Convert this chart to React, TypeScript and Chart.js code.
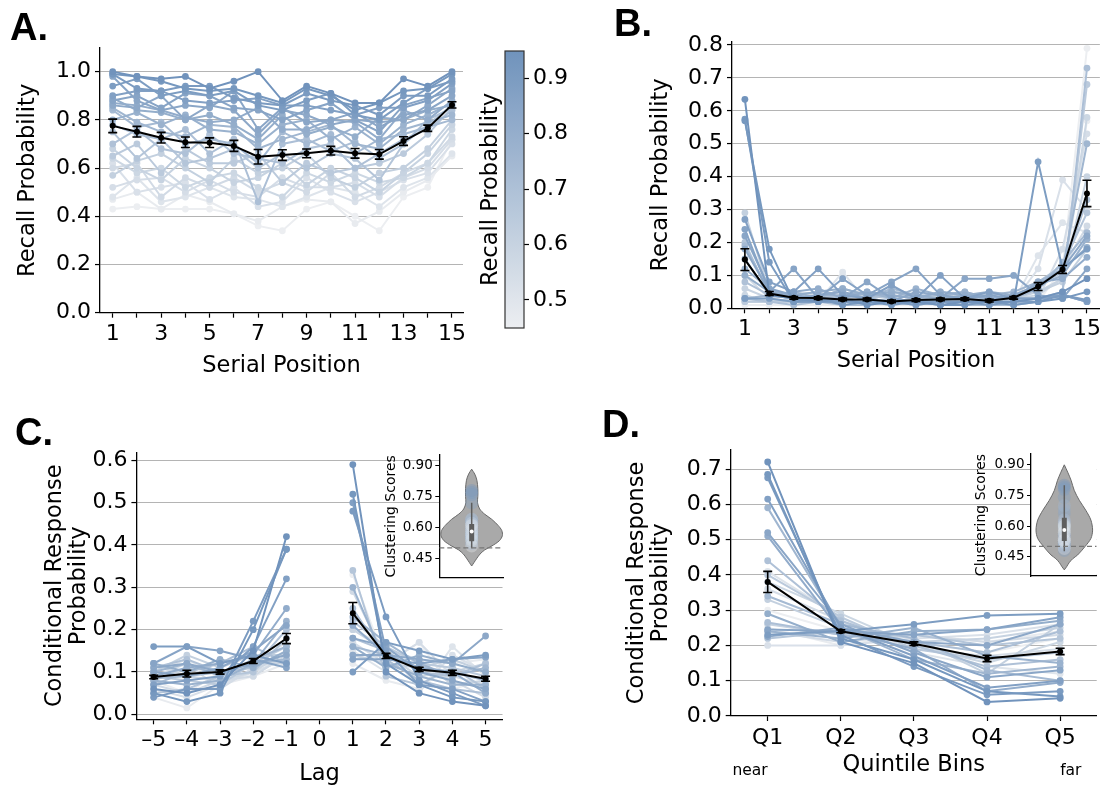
import React, { useEffect, useRef } from "react";
import { Chart, registerables } from "chart.js";

Chart.register(...registerables);

const FONT = "'DejaVu Sans', 'Noto Sans', sans-serif";
const LABEL_FONT = "bold 38px 'Liberation Sans', Arial, sans-serif";
const W = 1104;
const H = 785;
Chart.defaults.font.family = FONT;
Chart.defaults.color = "#000";

// ---------------- data ----------------
const serialPositions = [1, 2, 3, 4, 5, 6, 7, 8, 9, 10, 11, 12, 13, 14, 15];
const serialTickLabels = ["1", "", "3", "", "5", "", "7", "", "9", "", "11", "", "13", "", "15"];

const spcYTicks = [0, 0.2, 0.4, 0.6, 0.8, 1.0];
const spcMean = [0.775, 0.751, 0.726, 0.707, 0.705, 0.692, 0.647, 0.654, 0.661, 0.672, 0.661, 0.657, 0.712, 0.765, 0.862];
const spcSem = [0.028, 0.022, 0.022, 0.022, 0.02, 0.023, 0.03, 0.022, 0.018, 0.018, 0.02, 0.02, 0.018, 0.013, 0.013];
const spcSubjects = [
  [1.0, 0.98, 0.97, 0.98, 0.93, 0.96, 1.0, 0.88, 0.94, 0.91, 0.87, 0.87, 0.97, 0.94, 1.0],
  [0.99, 0.98, 0.96, 0.93, 0.92, 0.93, 0.9, 0.87, 0.93, 0.9, 0.84, 0.87, 0.92, 0.93, 0.99],
  [0.99, 0.93, 0.92, 0.94, 0.94, 0.89, 0.87, 0.86, 0.91, 0.88, 0.86, 0.82, 0.9, 0.9, 0.97],
  [0.94, 0.97, 0.9, 0.92, 0.9, 0.92, 0.86, 0.84, 0.88, 0.91, 0.82, 0.8, 0.87, 0.93, 0.96],
  [0.9, 0.92, 0.92, 0.88, 0.87, 0.88, 0.89, 0.86, 0.86, 0.84, 0.82, 0.85, 0.85, 0.88, 0.95],
  [0.88, 0.9, 0.85, 0.91, 0.9, 0.85, 0.84, 0.8, 0.84, 0.87, 0.8, 0.75, 0.86, 0.89, 0.92],
  [0.98, 0.88, 0.84, 0.86, 0.85, 0.92, 0.76, 0.85, 0.79, 0.8, 0.83, 0.77, 0.82, 0.84, 0.9],
  [0.86, 0.85, 0.9, 0.8, 0.86, 0.84, 0.74, 0.84, 0.82, 0.78, 0.8, 0.79, 0.8, 0.86, 0.93],
  [0.87, 0.86, 0.84, 0.81, 0.79, 0.8, 0.85, 0.76, 0.76, 0.8, 0.79, 0.72, 0.84, 0.8, 0.88],
  [0.89, 0.84, 0.83, 0.8, 0.82, 0.78, 0.72, 0.82, 0.74, 0.77, 0.73, 0.81, 0.8, 0.84, 0.86],
  [0.8, 0.83, 0.78, 0.82, 0.76, 0.75, 0.7, 0.78, 0.8, 0.72, 0.77, 0.7, 0.78, 0.82, 0.87],
  [0.85, 0.79, 0.75, 0.73, 0.78, 0.77, 0.68, 0.72, 0.75, 0.78, 0.7, 0.68, 0.76, 0.79, 0.82],
  [0.84, 0.77, 0.79, 0.7, 0.72, 0.7, 0.62, 0.75, 0.7, 0.74, 0.66, 0.72, 0.74, 0.77, 0.8],
  [0.78, 0.74, 0.72, 0.76, 0.66, 0.72, 0.46, 0.7, 0.72, 0.67, 0.71, 0.64, 0.7, 0.8, 0.85],
  [0.7, 0.76, 0.68, 0.66, 0.74, 0.66, 0.64, 0.62, 0.68, 0.7, 0.6, 0.66, 0.72, 0.76, 0.84],
  [0.75, 0.64, 0.72, 0.62, 0.64, 0.68, 0.6, 0.66, 0.6, 0.66, 0.64, 0.55, 0.7, 0.78, 0.86],
  [0.65, 0.7, 0.58, 0.68, 0.62, 0.62, 0.66, 0.54, 0.62, 0.58, 0.6, 0.62, 0.66, 0.74, 0.85],
  [0.57, 0.63, 0.66, 0.6, 0.54, 0.64, 0.58, 0.6, 0.66, 0.56, 0.52, 0.58, 0.6, 0.68, 0.8],
  [0.68, 0.6, 0.55, 0.64, 0.6, 0.54, 0.56, 0.62, 0.53, 0.6, 0.56, 0.5, 0.58, 0.66, 0.78],
  [0.64, 0.58, 0.6, 0.52, 0.56, 0.58, 0.52, 0.48, 0.58, 0.54, 0.58, 0.54, 0.56, 0.62, 0.76],
  [0.6, 0.62, 0.48, 0.56, 0.52, 0.56, 0.5, 0.54, 0.5, 0.58, 0.48, 0.52, 0.58, 0.62, 0.73],
  [0.52, 0.55, 0.56, 0.5, 0.55, 0.5, 0.48, 0.56, 0.52, 0.52, 0.54, 0.48, 0.56, 0.6, 0.72],
  [0.62, 0.5, 0.52, 0.54, 0.47, 0.52, 0.44, 0.46, 0.56, 0.5, 0.46, 0.5, 0.55, 0.58, 0.7],
  [0.48, 0.56, 0.46, 0.48, 0.52, 0.48, 0.47, 0.44, 0.48, 0.52, 0.5, 0.44, 0.52, 0.56, 0.66],
  [0.47, 0.5, 0.43, 0.49, 0.46, 0.41, 0.38, 0.44, 0.47, 0.46, 0.37, 0.42, 0.5, 0.55, 0.65],
  [0.43, 0.44, 0.43, 0.43, 0.43, 0.41, 0.36, 0.34, 0.43, 0.46, 0.4, 0.34, 0.48, 0.52, 0.72],
];

const pfrYTicks = [0, 0.1, 0.2, 0.3, 0.4, 0.5, 0.6, 0.7, 0.8];
const pfrMean = [0.148, 0.045, 0.032, 0.031, 0.027, 0.027, 0.021, 0.025, 0.027, 0.028, 0.023, 0.032, 0.066, 0.118, 0.349];
const pfrSem = [0.033, 0.006, 0.004, 0.004, 0.004, 0.004, 0.004, 0.004, 0.004, 0.004, 0.004, 0.004, 0.012, 0.012, 0.04];
const pfrSubjects = [
  [0.635, 0.04, 0.03, 0.02, 0.03, 0.01, 0.02, 0.02, 0.01, 0.02, 0.02, 0.02, 0.03, 0.05, 0.09],
  [0.57, 0.18, 0.02, 0.03, 0.01, 0.02, 0.01, 0.02, 0.01, 0.01, 0.02, 0.01, 0.02, 0.03, 0.05],
  [0.575, 0.14, 0.02, 0.02, 0.02, 0.02, 0.02, 0.01, 0.02, 0.02, 0.01, 0.02, 0.02, 0.04, 0.025],
  [0.03, 0.03, 0.02, 0.02, 0.02, 0.02, 0.02, 0.02, 0.02, 0.02, 0.02, 0.02, 0.445, 0.12, 0.18],
  [0.27, 0.08, 0.05, 0.12, 0.04, 0.03, 0.07, 0.03, 0.1, 0.03, 0.05, 0.03, 0.03, 0.04, 0.02],
  [0.24, 0.05, 0.12, 0.03, 0.09, 0.04, 0.08, 0.12, 0.04, 0.03, 0.04, 0.03, 0.03, 0.04, 0.02],
  [0.22, 0.06, 0.04, 0.03, 0.03, 0.08, 0.03, 0.02, 0.03, 0.09, 0.09, 0.1, 0.04, 0.03, 0.12],
  [0.18, 0.05, 0.03, 0.04, 0.05, 0.03, 0.02, 0.05, 0.04, 0.03, 0.02, 0.04, 0.07, 0.12, 0.22],
  [0.15, 0.04, 0.05, 0.06, 0.03, 0.05, 0.04, 0.03, 0.05, 0.04, 0.03, 0.03, 0.08, 0.09, 0.155],
  [0.1, 0.05, 0.04, 0.05, 0.06, 0.04, 0.05, 0.04, 0.03, 0.04, 0.05, 0.04, 0.06, 0.12, 0.185],
  [0.12, 0.06, 0.03, 0.04, 0.04, 0.05, 0.03, 0.06, 0.04, 0.05, 0.03, 0.04, 0.07, 0.1, 0.21],
  [0.03, 0.04, 0.05, 0.03, 0.06, 0.04, 0.04, 0.03, 0.05, 0.04, 0.04, 0.05, 0.08, 0.12, 0.5],
  [0.19, 0.05, 0.04, 0.03, 0.02, 0.03, 0.06, 0.04, 0.02, 0.04, 0.03, 0.03, 0.06, 0.14, 0.23],
  [0.03, 0.02, 0.01, 0.02, 0.01, 0.01, 0.02, 0.01, 0.02, 0.01, 0.01, 0.01, 0.02, 0.05, 0.73],
  [0.08, 0.04, 0.03, 0.04, 0.05, 0.03, 0.05, 0.04, 0.04, 0.05, 0.03, 0.03, 0.07, 0.11, 0.33],
  [0.2, 0.04, 0.03, 0.03, 0.04, 0.03, 0.04, 0.03, 0.03, 0.03, 0.03, 0.03, 0.08, 0.13, 0.29],
  [0.02, 0.02, 0.02, 0.03, 0.02, 0.02, 0.03, 0.02, 0.02, 0.03, 0.02, 0.02, 0.03, 0.05, 0.68],
  [0.29, 0.05, 0.04, 0.05, 0.03, 0.04, 0.03, 0.04, 0.03, 0.03, 0.04, 0.03, 0.05, 0.08, 0.18],
  [0.06, 0.03, 0.04, 0.03, 0.04, 0.03, 0.04, 0.03, 0.04, 0.03, 0.03, 0.04, 0.05, 0.09, 0.4],
  [0.04, 0.02, 0.03, 0.02, 0.02, 0.03, 0.02, 0.02, 0.03, 0.02, 0.02, 0.03, 0.04, 0.09, 0.58],
  [0.1, 0.03, 0.05, 0.04, 0.03, 0.04, 0.05, 0.03, 0.04, 0.04, 0.03, 0.04, 0.06, 0.12, 0.25],
  [0.02, 0.02, 0.03, 0.02, 0.03, 0.02, 0.02, 0.03, 0.02, 0.02, 0.02, 0.03, 0.03, 0.18, 0.53],
  [0.03, 0.03, 0.02, 0.03, 0.02, 0.02, 0.02, 0.02, 0.02, 0.02, 0.02, 0.02, 0.12, 0.39, 0.3],
  [0.02, 0.02, 0.02, 0.02, 0.11, 0.02, 0.02, 0.02, 0.02, 0.02, 0.02, 0.02, 0.16, 0.26, 0.23],
  [0.03, 0.02, 0.02, 0.02, 0.02, 0.02, 0.02, 0.02, 0.02, 0.02, 0.02, 0.02, 0.03, 0.05, 0.57],
  [0.01, 0.01, 0.01, 0.01, 0.01, 0.01, 0.01, 0.01, 0.01, 0.01, 0.01, 0.01, 0.02, 0.12, 0.79],
];

const lags = [-5, -4, -3, -2, -1, 1, 2, 3, 4, 5];
const lagTicks = [-5, -4, -3, -2, -1, 0, 1, 2, 3, 4, 5];
const lagTickLabels = ["\u20135", "\u20134", "\u20133", "\u20132", "\u20131", "0", "1", "2", "3", "4", "5"];
const crpYTicks = [0, 0.1, 0.2, 0.3, 0.4, 0.5, 0.6];
const crpMean = [0.088, 0.096, 0.1, 0.126, 0.179, 0.239, 0.138, 0.106, 0.098, 0.084];
const crpSem = [0.004, 0.008, 0.005, 0.006, 0.012, 0.025, 0.006, 0.005, 0.006, 0.006];
const crpSubjects = [
  [0.06, 0.05, 0.07, 0.15, 0.42, 0.59, 0.1, 0.05, 0.03, 0.02],
  [0.05, 0.03, 0.05, 0.2, 0.39, 0.52, 0.12, 0.07, 0.04, 0.03],
  [0.04, 0.06, 0.06, 0.22, 0.39, 0.48, 0.23, 0.08, 0.05, 0.02],
  [0.16, 0.16, 0.12, 0.14, 0.12, 0.1, 0.17, 0.15, 0.13, 0.14],
  [0.07, 0.08, 0.09, 0.16, 0.32, 0.5, 0.15, 0.07, 0.06, 0.03],
  [0.12, 0.16, 0.15, 0.13, 0.11, 0.13, 0.13, 0.12, 0.13, 0.135],
  [0.1, 0.09, 0.11, 0.15, 0.21, 0.18, 0.16, 0.1, 0.08, 0.06],
  [0.11, 0.12, 0.1, 0.12, 0.14, 0.14, 0.14, 0.13, 0.12, 0.185],
  [0.09, 0.11, 0.12, 0.14, 0.25, 0.21, 0.14, 0.11, 0.1, 0.05],
  [0.12, 0.1, 0.13, 0.11, 0.15, 0.16, 0.11, 0.14, 0.12, 0.1],
  [0.08, 0.07, 0.08, 0.12, 0.22, 0.3, 0.12, 0.09, 0.07, 0.07],
  [0.1, 0.12, 0.09, 0.13, 0.16, 0.23, 0.17, 0.12, 0.09, 0.11],
  [0.085, 0.09, 0.1, 0.12, 0.13, 0.16, 0.14, 0.11, 0.1, 0.08],
  [0.07, 0.1, 0.12, 0.16, 0.12, 0.25, 0.13, 0.08, 0.06, 0.05],
  [0.11, 0.13, 0.1, 0.11, 0.2, 0.18, 0.15, 0.1, 0.09, 0.12],
  [0.05, 0.06, 0.09, 0.1, 0.18, 0.34, 0.09, 0.07, 0.11, 0.06],
  [0.09, 0.08, 0.07, 0.12, 0.16, 0.22, 0.16, 0.12, 0.11, 0.09],
  [0.1, 0.14, 0.11, 0.14, 0.14, 0.14, 0.12, 0.11, 0.13, 0.1],
  [0.08, 0.11, 0.1, 0.12, 0.12, 0.2, 0.15, 0.13, 0.07, 0.08],
  [0.12, 0.09, 0.08, 0.1, 0.15, 0.13, 0.14, 0.09, 0.1, 0.12],
  [0.07, 0.05, 0.08, 0.09, 0.14, 0.29, 0.13, 0.12, 0.08, 0.04],
  [0.09, 0.12, 0.06, 0.11, 0.13, 0.17, 0.12, 0.17, 0.09, 0.07],
  [0.06, 0.04, 0.07, 0.1, 0.13, 0.2, 0.16, 0.06, 0.14, 0.1],
  [0.1, 0.13, 0.09, 0.12, 0.17, 0.15, 0.1, 0.05, 0.16, 0.09],
  [0.04, 0.015, 0.07, 0.09, 0.12, 0.12, 0.08, 0.06, 0.12, 0.13],
  [0.08, 0.05, 0.1, 0.09, 0.15, 0.33, 0.12, 0.17, 0.06, 0.08],
];

const quintileBins = ["Q1", "Q2", "Q3", "Q4", "Q5"];
const quintilePositions = [0, 1, 2, 3, 4];
const quintYTicks = [0, 0.1, 0.2, 0.3, 0.4, 0.5, 0.6, 0.7];
const quintMean = [0.38, 0.24, 0.205, 0.163, 0.183];
const quintSem = [0.03, 0.004, 0.005, 0.009, 0.009];
const quintSubjects = [
  [0.72, 0.21, 0.15, 0.04, 0.05],
  [0.685, 0.22, 0.16, 0.07, 0.055],
  [0.675, 0.23, 0.14, 0.06, 0.07],
  [0.23, 0.24, 0.26, 0.285, 0.29],
  [0.615, 0.25, 0.17, 0.08, 0.1],
  [0.245, 0.24, 0.23, 0.245, 0.28],
  [0.52, 0.26, 0.18, 0.11, 0.13],
  [0.225, 0.25, 0.21, 0.2, 0.26],
  [0.51, 0.24, 0.19, 0.07, 0.095],
  [0.29, 0.21, 0.24, 0.245, 0.27],
  [0.24, 0.22, 0.25, 0.17, 0.15],
  [0.59, 0.25, 0.16, 0.12, 0.14],
  [0.34, 0.26, 0.22, 0.13, 0.1],
  [0.265, 0.23, 0.21, 0.18, 0.24],
  [0.44, 0.27, 0.2, 0.14, 0.16],
  [0.22, 0.24, 0.23, 0.2, 0.22],
  [0.4, 0.28, 0.19, 0.16, 0.18],
  [0.33, 0.25, 0.22, 0.12, 0.26],
  [0.26, 0.23, 0.21, 0.22, 0.25],
  [0.38, 0.29, 0.2, 0.15, 0.21],
  [0.24, 0.21, 0.23, 0.21, 0.23],
  [0.36, 0.27, 0.19, 0.17, 0.19],
  [0.2, 0.2, 0.22, 0.23, 0.26],
  [0.41, 0.28, 0.18, 0.14, 0.12],
  [0.25, 0.2, 0.23, 0.21, 0.24],
  [0.3, 0.24, 0.21, 0.18, 0.22],
];

// clustering-score insets
const clusterTicks = [0.45, 0.6, 0.75, 0.9];
const chanceLevel = 0.5;
const lagClusterScores = [0.78, 0.77, 0.76, 0.55, 0.72, 0.52, 0.62, 0.55, 0.63, 0.56, 0.64, 0.6, 0.58, 0.57, 0.6, 0.64, 0.58, 0.53, 0.57, 0.55, 0.62, 0.56, 0.59, 0.54, 0.51, 0.61];
const lagViolinValues = [0.884, 0.86, 0.83, 0.79, 0.75, 0.72, 0.69, 0.665, 0.64, 0.61, 0.585, 0.56, 0.535, 0.51, 0.49, 0.47, 0.45, 0.43, 0.412];
const lagViolinWidths = [0, 0.1, 0.17, 0.2, 0.2, 0.19, 0.26, 0.42, 0.65, 0.86, 0.98, 1.0, 0.9, 0.66, 0.42, 0.27, 0.17, 0.08, 0];
const lagBox = [0.533, 0.617];
const lagWhisker = [0.499, 0.72];
const lagMedian = 0.58;

const semClusterScores = [0.8, 0.79, 0.78, 0.48, 0.74, 0.5, 0.66, 0.52, 0.68, 0.51, 0.55, 0.7, 0.62, 0.56, 0.63, 0.53, 0.6, 0.58, 0.52, 0.61, 0.54, 0.59, 0.49, 0.6, 0.53, 0.57];
const semViolinValues = [0.9, 0.864, 0.824, 0.775, 0.726, 0.677, 0.629, 0.58, 0.539, 0.499, 0.458, 0.44, 0.42, 0.4, 0.385];
const semViolinWidths = [0, 0.12, 0.24, 0.35, 0.53, 0.76, 0.94, 1.0, 0.94, 0.73, 0.47, 0.3, 0.17, 0.08, 0];
const semBox = [0.527, 0.64];
const semWhisker = [0.476, 0.8];
const semMedian = 0.58;

const colorbarTicks = [0.5, 0.6, 0.7, 0.8, 0.9];
const colorMin = 0.4495;
const colorMax = 0.949;

// ---------------- helpers ----------------
const cmapLow = [236, 238, 241];
const cmapHigh = [112, 147, 188];
function cmap(v: number, alpha = 1) {
  const t = Math.max(0, Math.min(1, (v - colorMin) / (colorMax - colorMin)));
  const c = cmapLow.map((lo, i) => Math.round(lo + (cmapHigh[i] - lo) * t));
  return `rgba(${c[0]},${c[1]},${c[2]},${alpha})`;
}
const mean = (a: number[]) => a.reduce((s, v) => s + v, 0) / a.length;
const subjectLevels = spcSubjects.map(mean);

function toPoints(xs: number[], ys: (number | null)[]) {
  const pts: any[] = [];
  xs.forEach((x, i) => {
    if (i > 0 && x - xs[i - 1] > 1) pts.push({ x: (x + xs[i - 1]) / 2, y: null });
    pts.push({ x, y: ys[i] });
  });
  return pts;
}
function toErrors(xs: number[], es: number[]) {
  const out: (number | null)[] = [];
  xs.forEach((x, i) => {
    if (i > 0 && x - xs[i - 1] > 1) out.push(null);
    out.push(es[i]);
  });
  return out;
}

function subjectSets(xs: number[], rows: number[][]) {
  return rows.map((row, i) => {
    const c = cmap(subjectLevels[i]);
    return {
      data: toPoints(xs, row),
      showLine: true,
      borderColor: c,
      backgroundColor: c,
      pointBackgroundColor: c,
      pointBorderColor: c,
      borderWidth: 2,
      pointRadius: 3.4,
      pointBorderWidth: 0,
      tension: 0,
      spanGaps: false,
    };
  });
}
function meanSet(xs: number[], m: number[], e: number[]) {
  return {
    data: toPoints(xs, m),
    errorBars: toErrors(xs, e),
    showLine: true,
    borderColor: "#000",
    backgroundColor: "#000",
    pointBackgroundColor: "#000",
    pointBorderColor: "#000",
    borderWidth: 2,
    pointRadius: 3,
    pointBorderWidth: 0,
    tension: 0,
    spanGaps: false,
  };
}

const errorBarPlugin = {
  id: "errorBars",
  afterDatasetsDraw(chart: any) {
    const ctx = chart.ctx;
    const xs = chart.scales.x;
    const ys = chart.scales.y;
    chart.data.datasets.forEach((ds: any) => {
      if (!ds.errorBars) return;
      ctx.save();
      ctx.strokeStyle = "#000";
      ctx.lineWidth = 1.6;
      const cap = 4.5;
      ds.data.forEach((p: any, i: number) => {
        const e = ds.errorBars[i];
        if (p.y == null || e == null) return;
        const x = xs.getPixelForValue(p.x);
        const y1 = ys.getPixelForValue(p.y - e);
        const y2 = ys.getPixelForValue(p.y + e);
        ctx.beginPath();
        ctx.moveTo(x, y1);
        ctx.lineTo(x, y2);
        ctx.moveTo(x - cap, y1);
        ctx.lineTo(x + cap, y1);
        ctx.moveTo(x - cap, y2);
        ctx.lineTo(x + cap, y2);
        ctx.stroke();
      });
      ctx.restore();
    });
  },
};

function textPlugin(items: any[]) {
  return {
    id: "extraText",
    afterDraw(chart: any) {
      const ctx = chart.ctx;
      ctx.save();
      items.forEach((it) => {
        ctx.font = it.font;
        ctx.fillStyle = "#000";
        ctx.textAlign = it.align || "left";
        ctx.textBaseline = "alphabetic";
        const x = it.xValue != null ? chart.scales.x.getPixelForValue(it.xValue) : it.x;
        ctx.fillText(it.text, x, it.y);
      });
      ctx.restore();
    },
  };
}

const whiteBgPlugin = {
  id: "whiteBg",
  beforeDraw(chart: any) {
    const a = chart.chartArea;
    const ctx = chart.ctx;
    ctx.save();
    ctx.fillStyle = "#fff";
    ctx.fillRect(a.left, a.top, a.right - a.left, a.bottom - a.top);
    ctx.restore();
  },
};

const colorbarPlugin = {
  id: "colorbarFill",
  beforeDatasetsDraw(chart: any) {
    const { ctx, chartArea: a } = chart;
    const ys = chart.scales.y;
    const g = ctx.createLinearGradient(0, ys.getPixelForValue(colorMin), 0, ys.getPixelForValue(colorMax));
    for (let k = 0; k <= 10; k++) {
      g.addColorStop(k / 10, cmap(colorMin + ((colorMax - colorMin) * k) / 10));
    }
    ctx.save();
    ctx.fillStyle = g;
    ctx.fillRect(a.left, a.top, a.right - a.left, a.bottom - a.top);
    ctx.strokeStyle = "#333";
    ctx.lineWidth = 1.2;
    ctx.strokeRect(a.left, a.top, a.right - a.left, a.bottom - a.top);
    ctx.restore();
  },
};

const GRID = "#b4b4b4";

function mainConfig(p: any) {
  return {
    type: "scatter",
    data: { datasets: p.datasets },
    options: {
      responsive: false,
      animation: false,
      devicePixelRatio: 1,
      events: [],
      layout: { padding: p.padding, autoPadding: false },
      plugins: { legend: { display: false }, tooltip: { enabled: false } },
      scales: {
        x: {
          type: "linear",
          min: p.xMin,
          max: p.xMax,
          afterBuildTicks: (s: any) => {
            s.ticks = p.xTicks.map((v: number) => ({ value: v }));
          },
          afterFit: (s: any) => {
            s.height = p.xHeight;
          },
          ticks: {
            autoSkip: false,
            maxRotation: 0,
            padding: p.xTickPad ?? 3,
            font: { family: FONT, size: 22 },
            color: "#000",
            callback: (_v: any, i: number) => p.xLabels[i],
          },
          grid: { display: true, drawOnChartArea: false, drawTicks: true, tickLength: 5, tickColor: "#000", tickWidth: 1.2 },
          border: { display: true, color: "#000", width: 1.3 },
          title: {
            display: true,
            text: p.xTitle,
            color: "#000",
            font: { family: FONT, size: 22.5, lineHeight: p.xTitleLH ?? 1.2 },
            padding: p.xTitlePad ?? { top: 4, bottom: 4 },
          },
        },
        y: {
          type: "linear",
          min: p.yMin,
          max: p.yMax,
          afterBuildTicks: (s: any) => {
            s.ticks = p.yTicks.map((v: number) => ({ value: v }));
          },
          afterFit: (s: any) => {
            s.width = p.yWidth;
          },
          ticks: {
            autoSkip: false,
            padding: 4,
            font: { family: FONT, size: 22 },
            color: "#000",
            callback: (v: number) => Number(v).toFixed(1),
          },
          grid: { display: true, color: GRID, lineWidth: 1.1, drawTicks: true, tickLength: 5, tickColor: "#000", tickWidth: 1.2 },
          border: { display: true, color: "#000", width: 1.3 },
          title: {
            display: true,
            text: p.yTitle,
            color: "#000",
            font: { family: FONT, size: 22.5, lineHeight: p.yTitleLH ?? 1.2 },
            padding: { top: 4, bottom: 4 },
          },
        },
      },
    },
    plugins: [errorBarPlugin, ...(p.plugins || [])],
  };
}

function violinSets(values: number[], widths: number[], scores: number[], box: number[], whisker: number[], median: number, xMin: number, xMax: number) {
  const right = values.map((v, i) => ({ x: widths[i], y: v }));
  const left = values.map((v, i) => ({ x: -widths[i], y: v })).reverse();
  return [
    {
      data: [{ x: xMin, y: chanceLevel }, { x: xMax, y: chanceLevel }],
      showLine: true,
      borderColor: "#777",
      borderWidth: 1.3,
      borderDash: [5, 3],
      pointRadius: 0,
    },
    { data: [{ x: 0, y: median }], pointRadius: 2, pointBackgroundColor: "#fff", pointBorderWidth: 0 },
    {
      data: [{ x: 0, y: box[0] }, { x: 0, y: box[1] }],
      showLine: true,
      borderColor: "#5e5e5e",
      borderWidth: 5,
      borderCapStyle: "butt",
      pointRadius: 0,
    },
    {
      data: [{ x: 0, y: whisker[0] }, { x: 0, y: whisker[1] }],
      showLine: true,
      borderColor: "#5e5e5e",
      borderWidth: 1.5,
      pointRadius: 0,
    },
    {
      data: scores.map((s) => ({ x: 0, y: s })),
      pointRadius: 6.5,
      pointBorderWidth: 0,
      pointBackgroundColor: scores.map((_s, i) => cmap(subjectLevels[i], 0.35)),
    },
    {
      data: [...right, ...left],
      showLine: true,
      fill: "shape",
      backgroundColor: "#a9a9a9",
      borderColor: "#6a6a6a",
      borderWidth: 1,
      pointRadius: 0,
      tension: 0.3,
    },
  ];
}

function insetConfig(p: any) {
  return {
    type: "scatter",
    data: { datasets: violinSets(p.values, p.widths, p.scores, p.box, p.whisker, p.median, p.xMin, p.xMax) },
    options: {
      responsive: false,
      animation: false,
      devicePixelRatio: 1,
      events: [],
      layout: { padding: p.padding, autoPadding: false },
      plugins: { legend: { display: false }, tooltip: { enabled: false } },
      scales: {
        x: {
          type: "linear",
          min: p.xMin,
          max: p.xMax,
          ticks: { display: false },
          grid: { display: false, drawTicks: false },
          border: { display: true, color: "#000", width: 1.3 },
          afterFit: (s: any) => {
            s.height = 0;
          },
        },
        y: {
          type: "linear",
          min: 0.355,
          max: 0.953,
          afterBuildTicks: (s: any) => {
            s.ticks = clusterTicks.map((v) => ({ value: v }));
          },
          afterFit: (s: any) => {
            s.width = p.yWidth;
          },
          ticks: {
            autoSkip: false,
            padding: 2.5,
            font: { family: FONT, size: 13.5 },
            color: "#000",
            callback: (v: number) => Number(v).toFixed(2),
          },
          grid: { display: true, drawOnChartArea: false, drawTicks: true, tickLength: 4, tickColor: "#000", tickWidth: 1 },
          border: { display: true, color: "#000", width: 1.3 },
          title: {
            display: true,
            text: "Clustering Scores",
            color: "#000",
            font: { family: FONT, size: 14 },
            padding: { top: 4, bottom: 4 },
          },
        },
      },
    },
    plugins: [whiteBgPlugin],
  };
}

function colorbarConfig() {
  return {
    type: "scatter",
    data: { datasets: [] },
    options: {
      responsive: false,
      animation: false,
      devicePixelRatio: 1,
      events: [],
      layout: { padding: { left: 473.5, right: 520, top: 51, bottom: 457 }, autoPadding: false },
      plugins: { legend: { display: false }, tooltip: { enabled: false } },
      scales: {
        x: { type: "linear", display: false, min: 0, max: 1 },
        y: {
          type: "linear",
          position: "right",
          min: colorMin,
          max: colorMax,
          afterBuildTicks: (s: any) => {
            s.ticks = colorbarTicks.map((v) => ({ value: v }));
          },
          afterFit: (s: any) => {
            s.width = 60;
          },
          ticks: {
            autoSkip: false,
            padding: 4,
            font: { family: FONT, size: 22 },
            color: "#000",
            callback: (v: number) => Number(v).toFixed(1),
          },
          grid: { display: true, drawOnChartArea: false, drawTicks: true, tickLength: 5, tickColor: "#000", tickWidth: 1.2 },
          border: { display: false },
        },
        yl: {
          type: "linear",
          position: "left",
          min: colorMin,
          max: colorMax,
          afterFit: (s: any) => {
            s.width = 31.5;
          },
          ticks: { display: false },
          grid: { display: false, drawTicks: false },
          border: { display: false },
          title: {
            display: true,
            text: "Recall Probability",
            color: "#000",
            font: { family: FONT, size: 22.5 },
            padding: { top: 4, bottom: 4 },
          },
        },
      },
    },
    plugins: [colorbarPlugin],
  };
}

// ---------------- panels ----------------
function configA() {
  return mainConfig({
    datasets: [meanSet(serialPositions, spcMean, spcSem), ...subjectSets(serialPositions, spcSubjects)],
    padding: { left: 10.8, right: 641, top: 48, bottom: 401.5 },
    yWidth: 89.2,
    xHeight: 70.8,
    xMin: 0.476,
    xMax: 15.454,
    xTicks: serialPositions,
    xLabels: serialTickLabels,
    xTitle: "Serial Position",
    yMin: 0,
    yMax: 1.098,
    yTicks: spcYTicks,
    yTitle: "Recall Probability",
    plugins: [textPlugin([{ text: "A.", x: 10, y: 39.5, font: LABEL_FONT }])],
  });
}
function configB() {
  return mainConfig({
    datasets: [meanSet(serialPositions, pfrMean, pfrSem), ...subjectSets(serialPositions, pfrSubjects)],
    padding: { left: 643.5, right: 1, top: 41.7, bottom: 406 },
    yWidth: 88.5,
    xHeight: 70.7,
    xMin: 0.4725,
    xMax: 15.5275,
    xTicks: serialPositions,
    xLabels: serialTickLabels,
    xTitle: "Serial Position",
    yMin: 0,
    yMax: 0.81,
    yTicks: pfrYTicks,
    yTitle: "Recall Probability",
    plugins: [textPlugin([{ text: "B.", x: 614, y: 35.5, font: LABEL_FONT }])],
  });
}
function configC() {
  return mainConfig({
    datasets: [meanSet(lags, crpMean, crpSem), ...subjectSets(lags, crpSubjects)],
    padding: { left: 39.75, right: 601.5, top: 452.3, bottom: 0 },
    yWidth: 96.65,
    xHeight: 65.7,
    xMin: -5.52,
    xMax: 5.51,
    xTicks: lagTicks,
    xLabels: lagTickLabels,
    xTitle: "Lag",
    xTitleLH: 1.0,
    xTitlePad: { top: 0, bottom: 0 },
    yMin: -0.0118,
    yMax: 0.619,
    yTicks: crpYTicks,
    yTitle: ["Conditional Response", "Probability"],
    yTitleLH: 1.035,
    plugins: [textPlugin([{ text: "C.", x: 15, y: 445, font: LABEL_FONT }])],
  });
}
function configD() {
  return mainConfig({
    datasets: [meanSet(quintilePositions, quintMean, quintSem), ...subjectSets(quintilePositions, quintSubjects)],
    padding: { left: 621.85, right: 7.3, top: 450, bottom: 2.5 },
    yWidth: 108.85,
    xHeight: 66.5,
    xTickPad: 4,
    xMin: -0.506,
    xMax: 4.5,
    xTicks: quintilePositions,
    xLabels: quintileBins,
    xTitle: "Quintile Bins",
    yMin: 0,
    yMax: 0.754,
    yTicks: quintYTicks,
    yTitle: ["Conditional Response", "Probability"],
    yTitleLH: 1.035,
    plugins: [
      textPlugin([
        { text: "D.", x: 602, y: 436.5, font: LABEL_FONT },
        { text: "near", xValue: 0, y: 775, align: "right", font: `15.5px ${FONT}` },
        { text: "far", xValue: 4, y: 775, align: "left", font: `15.5px ${FONT}` },
      ]),
    ],
  });
}
function configCInset() {
  return insetConfig({
    values: lagViolinValues,
    widths: lagViolinWidths,
    scores: lagClusterScores,
    box: lagBox,
    whisker: lagWhisker,
    median: lagMedian,
    xMin: -1.055,
    xMax: 1.02,
    padding: { left: 379.3, right: 601, top: 455, bottom: 207.3 },
    yWidth: 60,
  });
}
function configDInset() {
  return insetConfig({
    values: semViolinValues,
    widths: semViolinWidths,
    scores: semClusterScores,
    box: semBox,
    whisker: semWhisker,
    median: semMedian,
    xMin: -1.177,
    xMax: 1.145,
    padding: { left: 969.3, right: 7.3, top: 454, bottom: 209 },
    yWidth: 61.7,
  });
}

export default function App() {
  const refs = useRef<(HTMLCanvasElement | null)[]>([]);
  useEffect(() => {
    const configs: any[] = [configA(), colorbarConfig(), configB(), configC(), configCInset(), configD(), configDInset()];
    const charts = configs.map((cfg, i) => new Chart(refs.current[i] as HTMLCanvasElement, cfg));
    return () => charts.forEach((c) => c.destroy());
  }, []);
  return (
    <div style={{ position: "absolute", left: 0, top: 0, width: W, height: H, background: "#fff", overflow: "hidden" }}>
      {[0, 1, 2, 3, 4, 5, 6].map((i) => (
        <canvas
          key={i}
          ref={(el) => {
            refs.current[i] = el;
          }}
          width={W}
          height={H}
          style={{ position: "absolute", left: 0, top: 0, width: W, height: H }}
        />
      ))}
    </div>
  );
}
